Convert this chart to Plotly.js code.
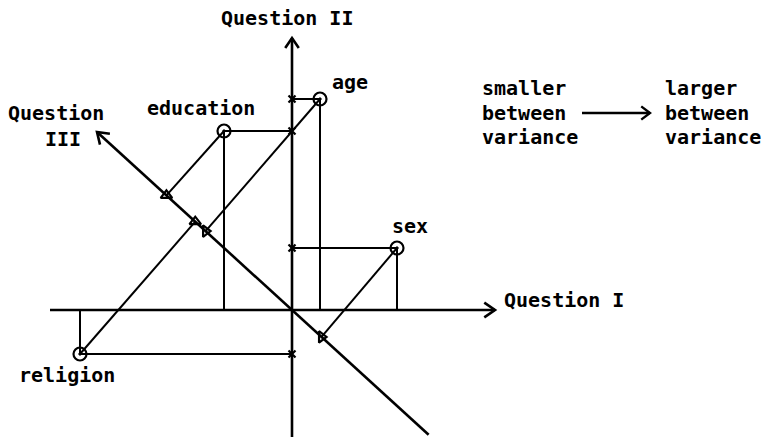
<!DOCTYPE html>
<html><head><meta charset="utf-8">
<script src="https://cdn.plot.ly/plotly-3.0.1.min.js"></script>
<style>html,body{margin:0;padding:0;background:#fff}#chart{width:768px;height:437px}</style>
</head><body><div id="chart"></div>
<script>
// ---- data (scores of each factor on the three questions) ----
const factors   = ['age', 'education', 'sex', 'religion'];
const questionI   = [2.8, -6.8, 10.5, -21.2];
const questionII  = [21.1, 17.9, 6.2, -4.4];
const questionIII = [11.7, 17.0, -4.0, 13.1];
const axisNames = ['Question I', 'Question II', 'Question III'];
const legendLeft  = ['smaller', 'between', 'variance'];
const legendRight = ['larger', 'between', 'variance'];

// ---- geometry helpers (page px -> data units) ----
const OX = 292, OY = 310, S = 10;
const px = v => (v - OX) / S;
const py = v => (OY - v) / S;
// direction of the Question III axis (up-left)
const ux0 = -195, uy0 = 178, ul = Math.hypot(ux0, uy0);
const u = [ux0 / ul, uy0 / ul];

const FONT = {family: 'DejaVu Sans Mono, Liberation Mono, monospace', size: 20, color: '#000', weight: 'bold'};
const traces = [];

function line(xs, ys, w) {
  traces.push({x: xs, y: ys, mode: 'lines', line: {color: '#000', width: w}, hoverinfo: 'skip', showlegend: false});
}
function vhead(tx, ty, dx, dy, L, ang, w) {
  const d = Math.hypot(dx, dy); dx /= d; dy /= d;
  const c = Math.cos(ang), s = Math.sin(ang);
  const a1 = [tx - L * (dx * c - dy * s), ty - L * (dx * s + dy * c)];
  const a2 = [tx - L * (dx * c + dy * s), ty - L * (-dx * s + dy * c)];
  line([a1[0], tx, a2[0]], [a1[1], ty, a2[1]], w);
}

// axes
line([px(50), px(495)], [0, 0], 2.6);
vhead(px(495), 0, 1, 0, 1.3, 0.6, 2.6);
line([0, 0], [py(437), py(38)], 2.6);
vhead(0, py(38), 0, 1, 1.2, 0.6, 2.6);
const t0 = -18.5, t1 = 26.4;
line([t0 * u[0], t1 * u[0]], [t0 * u[1], t1 * u[1]], 2.6);
vhead(t1 * u[0], t1 * u[1], u[0], u[1], 1.3, 0.6, 2.6);

// projection lines
const lx = [], ly = [];
factors.forEach((f, i) => {
  const x = questionI[i], y = questionII[i], t = questionIII[i];
  lx.push(x, 0, null, x, x, null, x, t * u[0], null);
  ly.push(y, y, null, y, 0, null, y, t * u[1], null);
});
line(lx, ly, 2);

// tick marks on Question II axis
traces.push({x: factors.map(() => 0), y: questionII, mode: 'markers',
  marker: {symbol: 'x-thin-open', size: 7, color: '#000', line: {color: '#000', width: 2.2}},
  hoverinfo: 'skip', showlegend: false});
// projections on Question III axis
traces.push({x: questionIII.map(t => t * u[0]), y: questionIII.map(t => t * u[1]), mode: 'markers',
  marker: {symbol: factors.map(f => (f === 'age' || f === 'sex') ? 'triangle-right-open' : 'triangle-up-open'),
    size: 10, color: '#000', line: {color: '#000', width: 2.2}},
  hoverinfo: 'skip', showlegend: false});
// factor points
traces.push({x: questionI, y: questionII, mode: 'markers',
  marker: {symbol: 'circle-open-dot', size: 13, color: '#000', line: {color: '#000', width: 2.2}},
  text: factors, hoverinfo: 'text', showlegend: false});

// annotations
const ann = [];
function txt(t, x, y, xa) {
  ann.push({text: t, x: px(x), y: py(y), xref: 'x', yref: 'y', showarrow: false,
    xanchor: xa || 'center', yanchor: 'middle', font: FONT});
}
const labelPos = {age: [350, 82], education: [201, 108], sex: [410, 226], religion: [67, 375]};
factors.forEach(f => txt(f, labelPos[f][0], labelPos[f][1]));
txt(axisNames[0], 502, 300, 'left');
txt(axisNames[1], 287, 18);
const q3 = axisNames[2].split(' ');
txt(q3[0], 56, 113);
txt(q3[1], 63, 139);
legendLeft.forEach((t, i) => txt(t, 480, 88 + i * 24.5, 'left'));
legendRight.forEach((t, i) => txt(t, 663, 88 + i * 24.5, 'left'));
line([px(582), px(650)], [py(113), py(113)], 2.4);
vhead(px(650), py(113), 1, 0, 1.1, 0.65, 2.4);

Plotly.newPlot('chart', traces, {
  width: 768, height: 437,
  margin: {l: 0, r: 0, t: 0, b: 0},
  paper_bgcolor: '#fff', plot_bgcolor: '#fff',
  xaxis: {range: [px(0), px(768)], visible: false, fixedrange: true},
  yaxis: {range: [py(437), py(0)], visible: false, fixedrange: true},
  annotations: ann,
  showlegend: false
}, {displayModeBar: false, staticPlot: true});
</script>
</body></html>
